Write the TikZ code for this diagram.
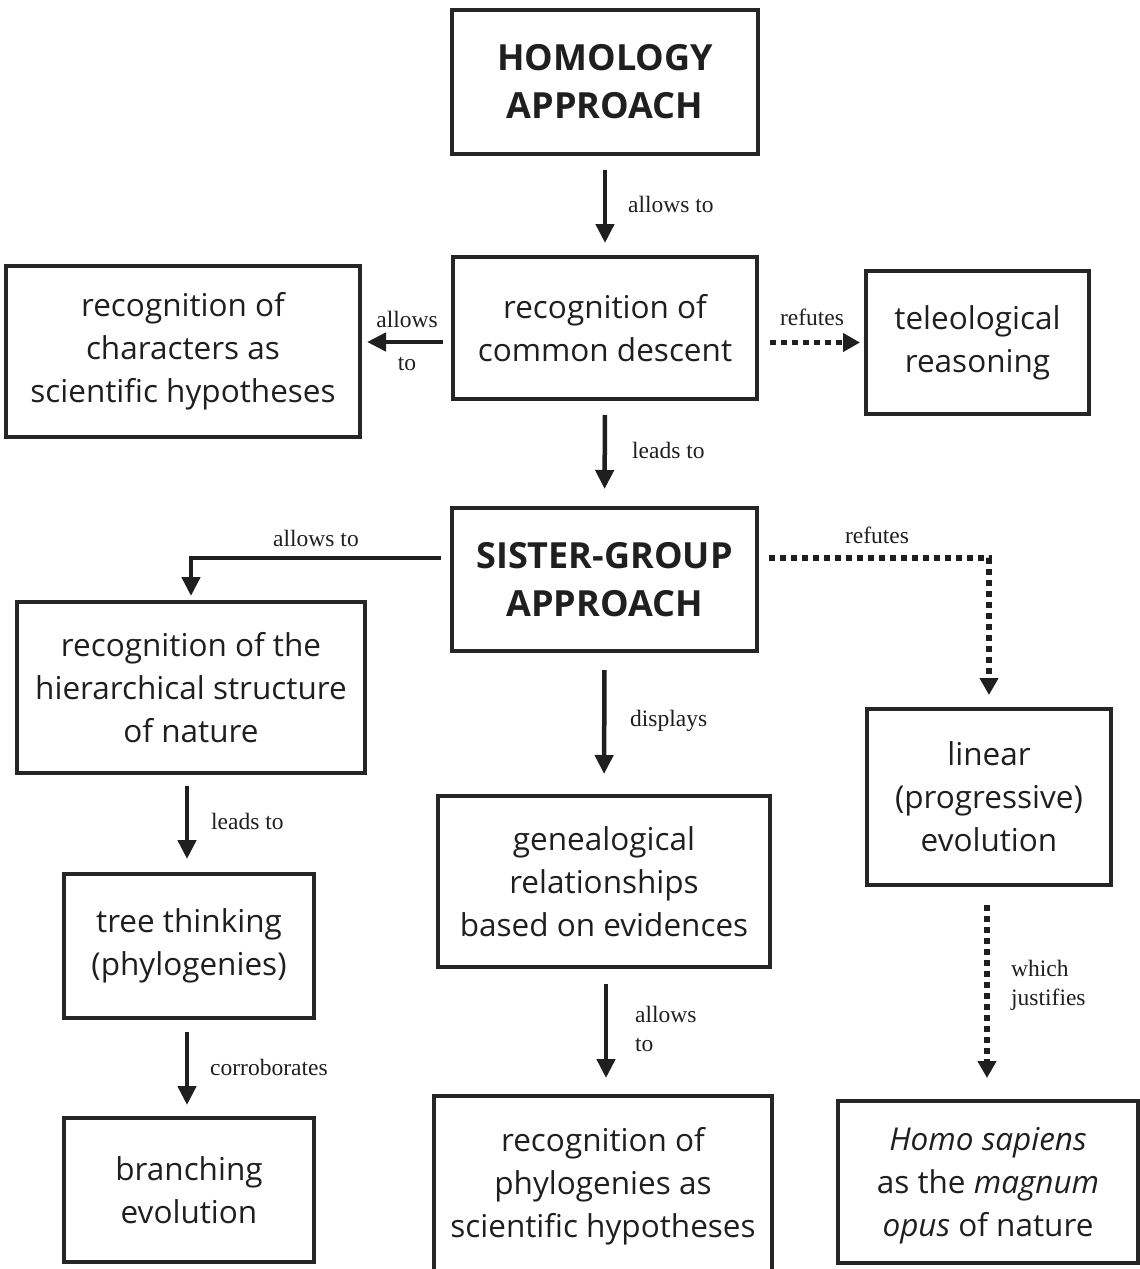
\documentclass[tikz,border=0pt]{standalone}
\usepackage{fontspec}
\setmainfont{Open Sans}
\newfontfamily\lblfont{Liberation Serif}
\usetikzlibrary{arrows.meta}
\tikzset{
  box/.style={draw=black!85, line width=4pt, align=center, inner sep=0pt,
    font=\fontsize{31.5}{43}\selectfont, text=black!88},
  titlebox/.style={box, font=\fontsize{36}{48}\selectfont\bfseries},
  lbl/.style={font=\lblfont\fontsize{23.5}{28.5}\selectfont, inner sep=0pt, text=black!88},
  arr/.style={draw=black!88, line width=4.5pt, -{Triangle[width=18pt,length=19pt]}},
  dotarr/.style={draw=black!88, line width=5.5pt, dash pattern=on 5.5pt off 5.5pt,
    -{Triangle[width=18pt,length=17pt]}},
}
\begin{document}
\begin{tikzpicture}[x=1pt,y=-1pt]
\useasboundingbox (0,0) rectangle (1140,1269);
% boxes
\node[titlebox, minimum width=306pt, minimum height=144pt] (hom) at (605,82) {HOMOLOGY\\APPROACH};
\node[box, minimum width=304pt, minimum height=142pt] (com) at (605,328) {recognition of\\common descent};
\node[box, minimum width=354pt, minimum height=171pt] (chars) at (183,351.5) {recognition of\\characters as\\scientific hypotheses};
\node[box, minimum width=223pt, minimum height=143pt] (tele) at (977.5,342.5) {teleological\\reasoning};
\node[titlebox, minimum width=305pt, minimum height=143pt] (sis) at (604.5,579.5) {SISTER-GROUP\\APPROACH};
\node[box, minimum width=348pt, minimum height=171pt] (hier) at (191,687.5) {recognition of the\\hierarchical structure\\of nature};
\node[box, minimum width=244pt, minimum height=176pt] (lin) at (989,797) {linear\\(progressive)\\evolution};
\node[box, minimum width=332pt, minimum height=171pt] (gen) at (604,881.5) {genealogical\\relationships\\based on evidences};
\node[box, minimum width=250pt, minimum height=144pt] (tree) at (189,946) {tree thinking\\(phylogenies)};
\node[box, minimum width=250pt, minimum height=144pt] (bran) at (189,1190) {branching\\evolution};
\node[box, minimum width=338pt, minimum height=180pt] (phy) at (603,1186) {recognition of\\phylogenies as\\scientific hypotheses};
\node[box, minimum width=300pt, minimum height=162pt, text depth=0pt] (homo) at (988,1182) {\itshape Homo sapiens\\as the \textit{magnum}\\\textit{opus} of nature};
% connectors
\draw[arr, shorten <=14pt, shorten >=12pt] (hom.south) -- (com.north);
\draw[arr, shorten <=8pt, shorten >=5pt] (com.west |- 0,342) -- (chars.east |- 0,342);
\draw[dotarr, shorten <=11pt, shorten >=4pt] (com.east |- tele.west) -- (tele.west);
\draw[arr, shorten <=14pt, shorten >=17pt] (com.south) -- (sis.north);
\draw[arr, shorten >=4pt] ([xshift=-9pt]sis.west |- 0,558) -| (hier.north);
\draw[dotarr, shorten >=12pt] ([xshift=10pt]sis.east |- 0,558) -| (lin.north);
\draw[arr, shorten <=17pt, shorten >=20pt] (sis.south) -- (gen.north);
\draw[arr, shorten <=11pt, shorten >=13pt] (hier.south -| 187,0) -- (tree.north -| 187,0);
\draw[dotarr, shorten <=18pt, shorten >=21pt] (lin.south -| 987,0) -- (homo.north -| 987,0);
\draw[arr, shorten <=12pt, shorten >=11pt] (tree.south -| 187,0) -- (bran.north -| 187,0);
\draw[arr, shorten <=15pt, shorten >=16pt] (gen.south -| 606,0) -- (phy.north -| 606,0);
% labels
\node[lbl, anchor=west] (l1) at (628,204) {allows to};
\node[lbl, align=center, font=\lblfont\fontsize{23.5}{43}\selectfont] (l2) at (407,340.5) {allows\\to};
\node[lbl] (l3) at (812,317) {refutes};
\node[lbl, anchor=west] (l4) at (632,450) {leads to};
\node[lbl] (l5) at (316,538) {allows to};
\node[lbl] (l6) at (877,535) {refutes};
\node[lbl, anchor=west] (l7) at (630,721) {displays};
\node[lbl, anchor=west] (l8) at (211,821) {leads to};
\node[lbl, align=left, anchor=west] (l9) at (1011,985.5) {which\\justifies};
\node[lbl, anchor=west] (l10) at (210,1067) {corroborates};
\node[lbl, align=left, anchor=west] (l11) at (635,1029) {allows\\to};
\end{tikzpicture}
\end{document}
